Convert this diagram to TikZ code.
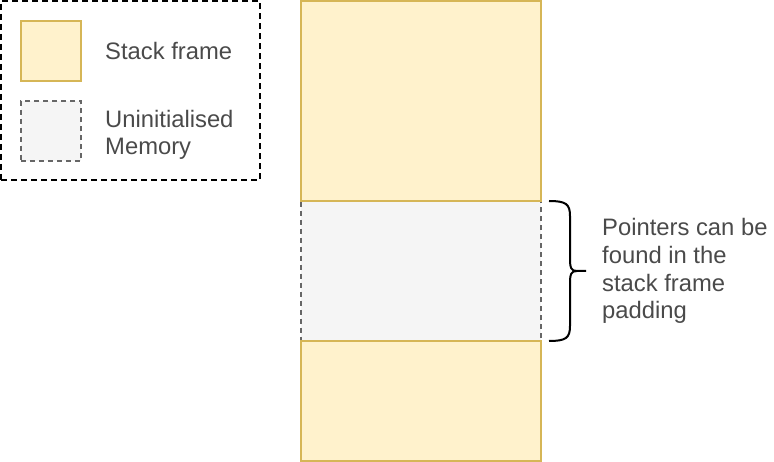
\documentclass[tikz,border=0pt]{standalone}
\usepackage{fontspec}
\setmainfont{Liberation Sans}
\definecolor{fillY}{HTML}{FFF2CC}
\definecolor{strokeY}{HTML}{D6B656}
\definecolor{fillG}{HTML}{F5F5F5}
\definecolor{strokeG}{HTML}{666666}
\definecolor{txt}{HTML}{4A4A4A}
\begin{document}
\begin{tikzpicture}[x=1pt,y=-1pt,
  box/.style={rectangle, inner sep=0pt, outer sep=0pt, anchor=north west, line width=2pt},
  frame/.style={box, draw=strokeY, fill=fillY},
  uninit/.style={box, draw=strokeG, fill=fillG, dash pattern=on 5pt off 4pt},
  legendbox/.style={box, draw=black, dash pattern=on 6pt off 4pt},
  lbl/.style={text=txt, font=\fontsize{23.8}{27.8}\selectfont, inner sep=0pt, anchor=base west, align=left}]
\useasboundingbox (0,0) rectangle (774,462);
% legend
\node[legendbox, minimum width=259pt, minimum height=179pt] (legend) at (1,1) {};
\node[frame, minimum width=60pt, minimum height=60pt] (swY) at (21,21) {};
\node[uninit, minimum width=60pt, minimum height=60pt] (swG) at (21,101) {};
\node[lbl] (tY) at (105,60) {Stack frame};
\node[lbl] (tG) at (105,155) {Uninitialised\\Memory};
% stack column
\node[uninit, minimum width=240pt, minimum height=140pt] (gap) at (301,201) {};
\node[frame, minimum width=240pt, minimum height=200pt] (top) at (301,1) {};
\node[frame, minimum width=240pt, minimum height=120pt] (bot) at (301,341) {};
% brace
\draw[line width=2pt, black]
  (549,201) .. controls (566,201) and (570,204) .. (570,216) -- (570,258)
  .. controls (570,268) and (571,271) .. (577,271) -- (586,271)
  (577,271) .. controls (571,271) and (570,274) .. (570,284) -- (570,326)
  .. controls (570,338) and (566,341) .. (549,341);
\node[lbl] (note) at (602,319) {Pointers can be\\found in the\\stack frame\\padding};
\end{tikzpicture}
\end{document}
